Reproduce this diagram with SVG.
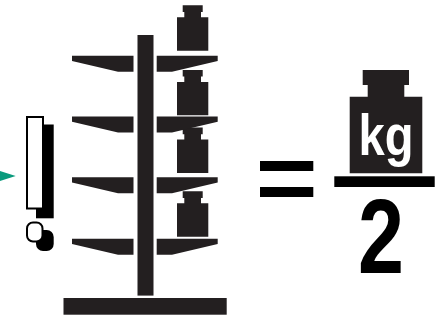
<svg xmlns="http://www.w3.org/2000/svg" width="436" height="320" viewBox="0 0 436 320">
<style>
.d{fill:#231f20}
.b{fill:#000}
.t{font-family:"Liberation Sans",Arial,sans-serif;font-weight:700}
</style>
<defs>
<path id="weight" class="d" d="M182.7 5.3H202.7V12H201V17.3H208.3V50.7H177V17.3H184.3V12H182.7Z"/>
<path id="shelfL" class="d" d="M72 55.7H133.5V71.7H118L72 61Z"/>
<path id="shelfR" class="d" d="M156.7 55.7H217.7V61L172 71.7H156.7Z"/>
</defs>
<g id="connectors"><polygon id="arrow" points="0,171 15.7,176 0,181" fill="#0a9b7d"/></g>
<g id="pointer">
<rect x="36" y="124.5" width="17.7" height="93.8" class="b"/>
<rect x="27" y="117" width="16" height="91.5" fill="#fff" stroke="#000" stroke-width="2"/>
<rect x="36" y="230" width="17.7" height="21" rx="7" class="b"/>
<rect x="27" y="222.5" width="15.5" height="19" rx="6" fill="#fff" stroke="#000" stroke-width="2"/>
</g>
<g id="stand">
<rect x="137.5" y="35" width="16" height="260.6" class="d"/>
<rect x="63.5" y="298" width="163.2" height="16.7" class="d"/>
</g>
<g id="weights">
<use href="#weight"/>
<use href="#weight" y="64.6"/>
<use href="#weight" y="122.3"/>
<use href="#weight" y="186"/>
</g>
<g id="shelves">
<use href="#shelfL"/><use href="#shelfR"/>
<use href="#shelfL" y="60.8"/><use href="#shelfR" y="60.8"/>
<use href="#shelfL" y="121.6"/><use href="#shelfR" y="121.6"/>
<use href="#shelfL" y="183"/><use href="#shelfR" y="183"/>
</g>
<g id="equals">
<rect x="260" y="161" width="53.3" height="10" class="b"/>
<rect x="260" y="187" width="53.3" height="10" class="b"/>
</g>
<g id="fraction">
<path class="d" d="M362.7 70H409V85H404.3V96.7H422.3V173.3H349.7V96.7H367.7V85H362.7Z"/>
<text x="358.5" y="155" class="t" font-size="57" fill="#fff" textLength="55" lengthAdjust="spacingAndGlyphs">kg</text>
<rect x="334.3" y="176.3" width="100.4" height="10.7" class="b"/>
<text x="358" y="273.3" class="t" font-size="105" fill="#000" textLength="46" lengthAdjust="spacingAndGlyphs">2</text>
</g>
</svg>
